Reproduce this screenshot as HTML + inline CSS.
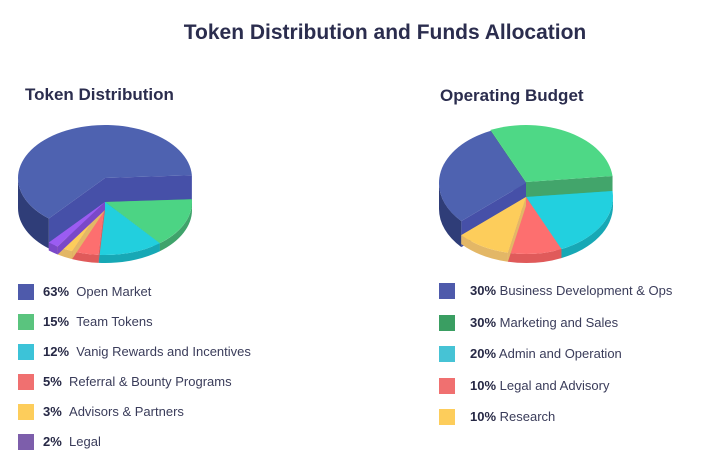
<!DOCTYPE html>
<html><head><meta charset="utf-8">
<style>
body{margin:0;background:#fff;font-family:"Liberation Sans",sans-serif;}
#root{position:relative;width:726px;height:460px;overflow:hidden;}
.t{position:absolute;color:#2b2d4e;font-weight:bold;white-space:nowrap;}
.leg{position:absolute;font-size:13px;color:#3a3c5a;white-space:nowrap;}
.leg .sw{position:absolute;width:16px;height:16px;}
.leg b{color:#262845;}
svg{position:absolute;left:0;top:0;}
</style></head><body>
<div id="root">
<svg id="svg" width="726" height="460"></svg>
<div class="t" style="left:0;width:770px;text-align:center;top:21px;font-size:21px">Token Distribution and Funds Allocation</div>
<div class="t" style="left:25px;top:85px;font-size:17px">Token Distribution</div>
<div class="t" style="left:440px;top:86px;font-size:17px">Operating Budget</div>
<div id="legL"></div><div id="legR"></div>
</div>
<script>
const leftLabels=["Open Market","Team Tokens","Vanig Rewards and Incentives","Referral & Bounty Programs","Advisors & Partners","Legal"];
const leftValues=[63,15,12,5,3,2];
const rightLabels=["Business Development & Ops","Marketing and Sales","Admin and Operation","Legal and Advisory","Research"];
const rightValues=[30,30,20,10,10];

const leftTop=["#4e62b0","#4cd484","#22cfde","#fd6f6f","#fdcd5b","#9b5cf2"];
const leftSide=["#2f3d78","#3fa36b","#17a8b5","#e05a5a","#e3b766","#7a48c8"];
const leftInner=["#4650a8","#3fa36b","#17a8b5","#e05a5a","#e3b766","#7a48c8"];
const leftLeg=["#4e5aab","#5ac47e","#3cc3d8","#f07070","#fdcd5b","#7d5eab"];
const rightTop=["#4e62b0","#4ed886","#22d0df","#fd6f6f","#fdcd5b"];
const rightSide=["#2f3d78","#42a56b","#17a8b5","#e05a5a","#e3b766"];
const rightInner=["#4650a8","#42a56b","#12b8c8","#e05a5a","#e3b766"];
const rightLeg=["#4e5aab","#3a9e62","#46c3d5","#f07070","#fdcd5b"];

const NS="http://www.w3.org/2000/svg";
const svg=document.getElementById('svg');
function P(d,f,name){const p=document.createElementNS(NS,'path');p.setAttribute('d',d);p.setAttribute('fill',f);


svg.appendChild(p);}
function pt(cx,cy,rx,ry,t){return [cx+rx*Math.cos(t),cy+ry*Math.sin(t)];}
function slice(cx,cy,rx,ry,dep,t0,t1,top,side,inner,name){
  const a=pt(cx,cy,rx,ry,t0),b=pt(cx,cy,rx,ry,t1);
  [a,b].forEach(q=>P(`M${cx},${cy}L${q[0]},${q[1]}L${q[0]},${q[1]+dep}L${cx},${cy+dep}Z`,inner,name+'-face'));
  for(let k=-2;k<=2;k++){
    const s=Math.max(t0,k*2*Math.PI),e=Math.min(t1,k*2*Math.PI+Math.PI);
    if(e>s){const u=pt(cx,cy,rx,ry,s),v=pt(cx,cy,rx,ry,e);
      P(`M${u[0]},${u[1]}A${rx},${ry} 0 0 1 ${v[0]},${v[1]}L${v[0]},${v[1]+dep}A${rx},${ry} 0 0 0 ${u[0]},${u[1]+dep}Z`,side,name+'-side');}
  }
  const large=(t1-t0)>Math.PI?1:0;
  P(`M${cx},${cy}L${a[0]},${a[1]}A${rx},${ry} 0 ${large} 1 ${b[0]},${b[1]}Z`,top,name+'-top');
}
const D=Math.PI/180;
function nm(s){return 'slice-'+s.toLowerCase().replace(/[^a-z]+/g,'-');}
(function(){
  const total=leftValues.reduce((s,v)=>s+v,0);
  const start=-3*D;
  const angs=[];let t=start;
  for(let i=1;i<leftValues.length;i++){const e=t+leftValues[i]/total*2*Math.PI;angs[i]=[t,e];t=e;}
  angs[0]=[t,start+2*Math.PI];
  slice(105,178,87,53,30,angs[0][0],angs[0][1],leftTop[0],leftSide[0],leftInner[0],nm(leftLabels[0]));
  for(let i=1;i<leftValues.length;i++)
    slice(105,202,87,53,8,angs[i][0],angs[i][1],leftTop[i],leftSide[i],leftInner[i],nm(leftLabels[i]));
})();
(function(){
  const total=rightValues.reduce((s,v)=>s+v,0);
  let t=-114*D;const angs=[];
  const order=[1,2,3,4,0];
  order.forEach(i=>{const e=t+rightValues[i]/total*2*Math.PI;angs[i]=[t,e];t=e;});
  const cyA={0:183,1:182,2:197,3:197,4:197};
  const depA={0:26,1:18,2:9,3:9,4:9};
  [1,0,2,3,4].forEach(i=>{
    slice(526,cyA[i],87,57,depA[i],angs[i][0],angs[i][1],rightTop[i],rightSide[i],rightInner[i],nm(rightLabels[i]));});
})();
function legend(id,x,tx,y0,dy,labels,vals,cols,gap){
  const c=document.getElementById(id);
  labels.forEach((l,i)=>{const d=document.createElement('div');d.className='leg';
    
    
    const y=y0+i*dy;d.style.left=x+'px';d.style.top=(y-9)+'px';d.style.height='18px';d.style.lineHeight='18px';
    d.innerHTML=`<span class="sw" style="left:0;top:1px;background:${cols[i]}"></span><span style="position:absolute;left:${tx-x}px;top:0"><b>${vals[i]}%</b>${gap}${l.replace('&','&amp;')}</span>`;
    c.appendChild(d);});
}
legend('legL',18,43,292,30,leftLabels,leftValues,leftLeg,'&nbsp;&nbsp;');
legend('legR',439,470,291,31.5,rightLabels,rightValues,rightLeg,' ');
</script>
</body></html>
